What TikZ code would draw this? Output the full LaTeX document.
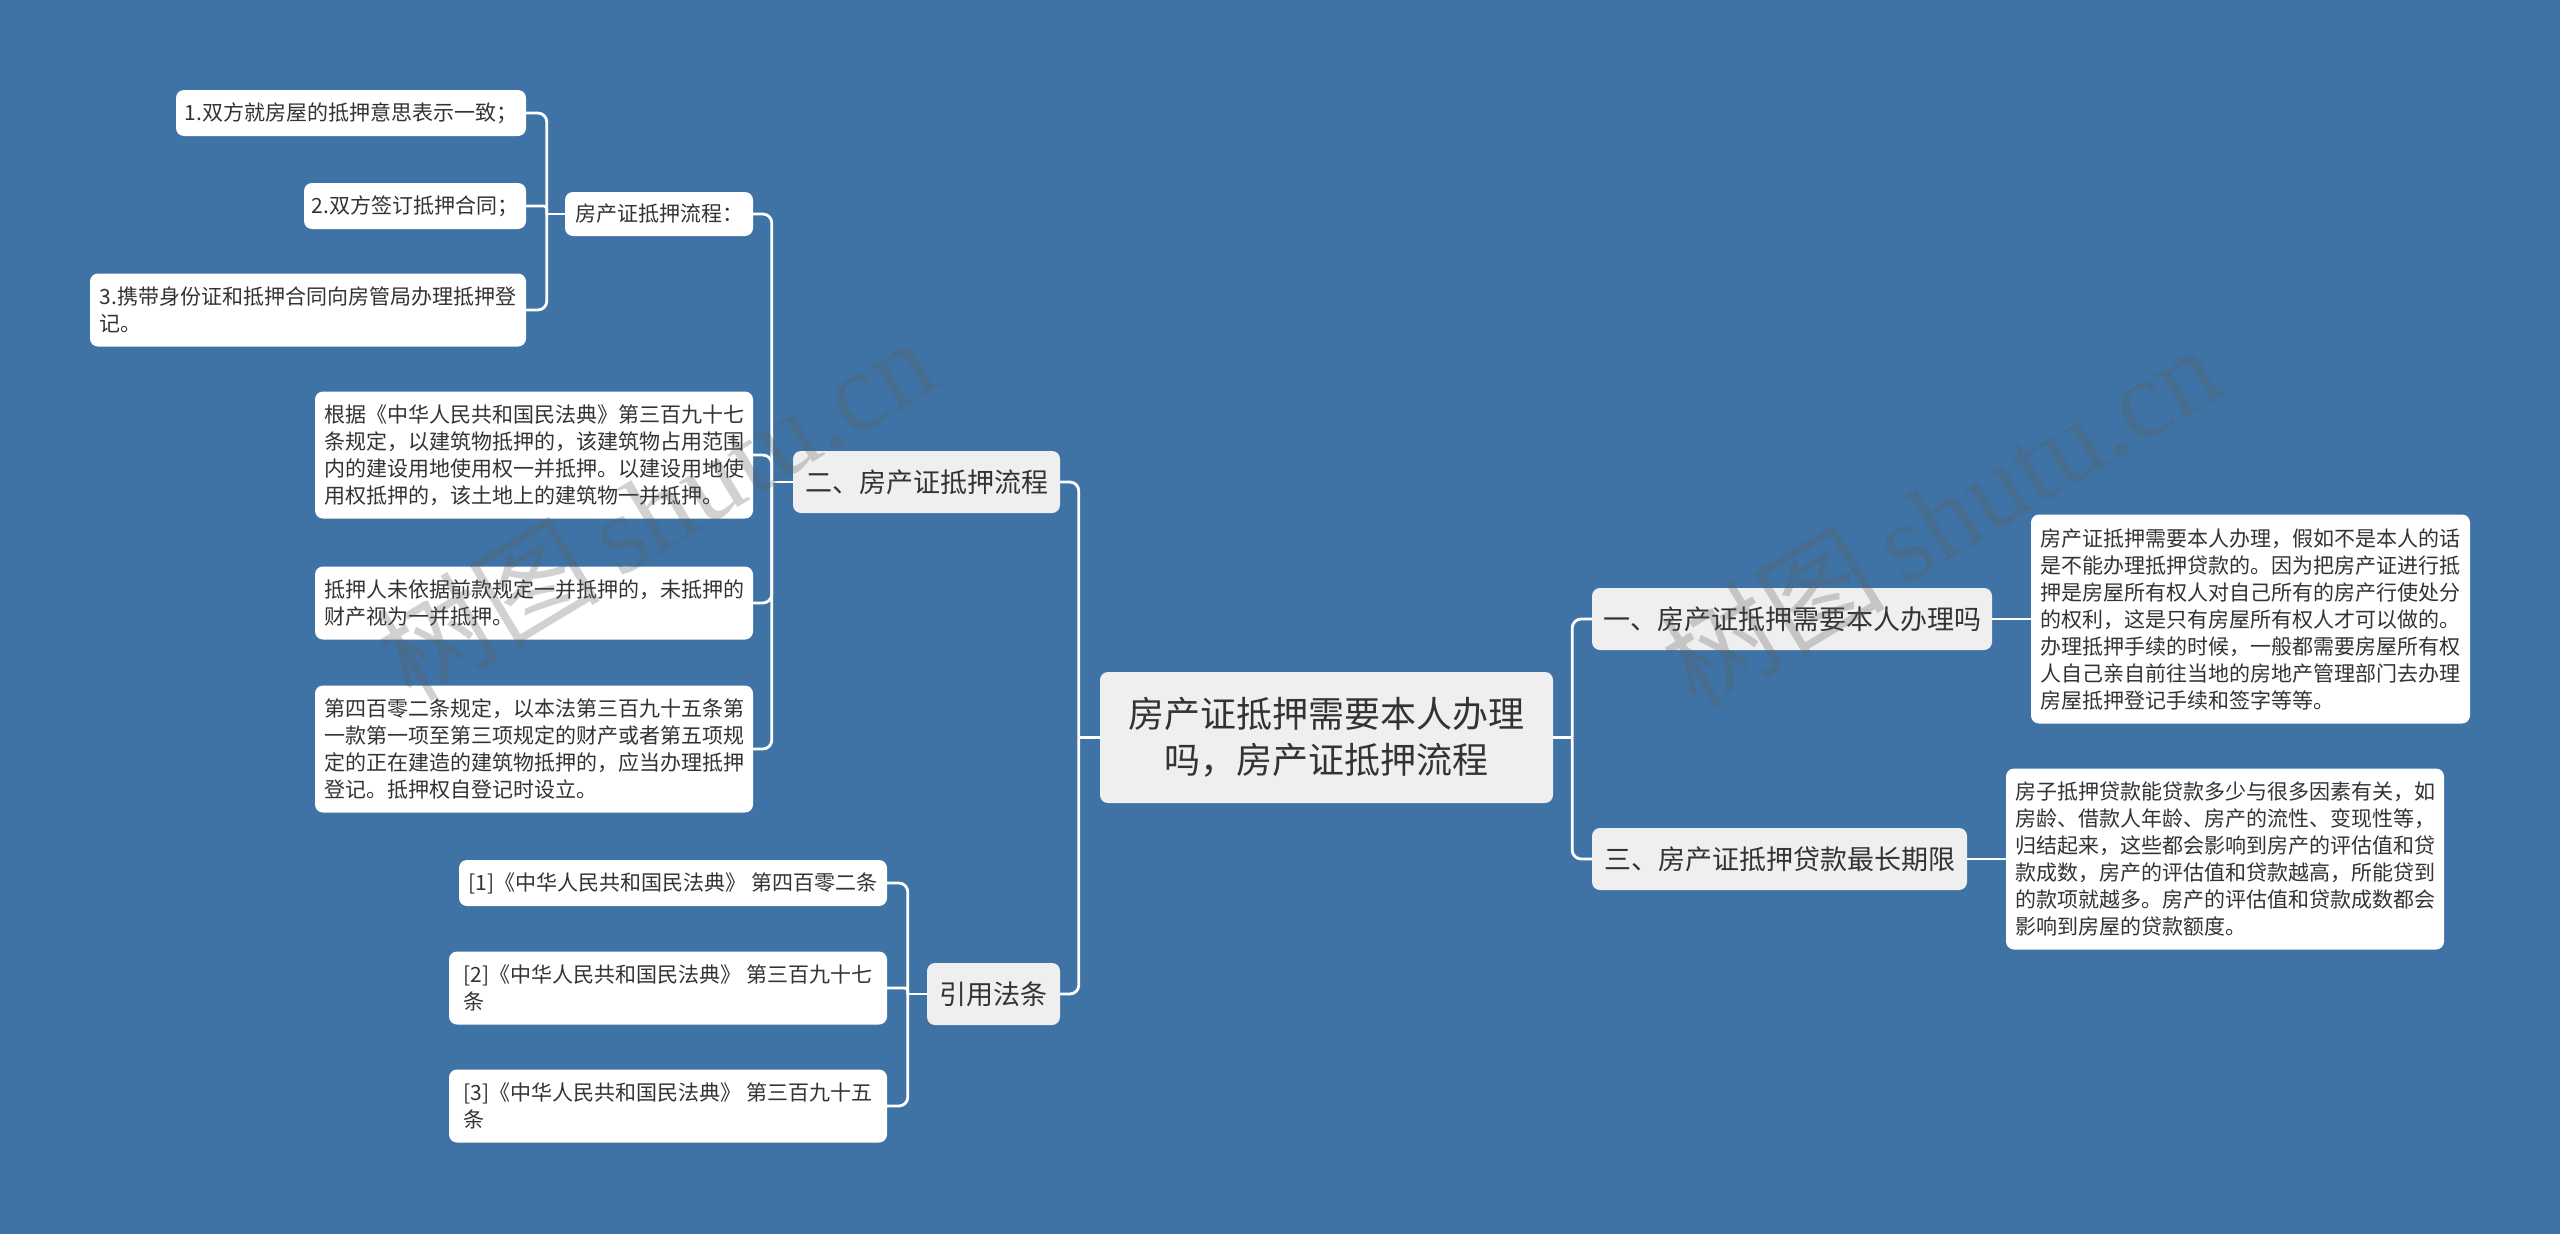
\documentclass[tikz,border=0pt]{standalone}
\usepackage{fontspec}
\setmainfont{Noto Sans CJK SC}
\newfontfamily\wmlatin{Liberation Serif}
\definecolor{bg}{RGB}{63,115,166}
\definecolor{txt}{RGB}{51,51,51}
\definecolor{lvl}{RGB}{239,239,239}
\definecolor{wmc}{RGB}{90,90,90}
\begin{document}
\begin{tikzpicture}[x=1pt,y=-1pt,
  box/.style={draw=none, rounded corners=8pt, text=txt, inner sep=0pt, align=left, anchor=center},
  leaf/.style={box, fill=white, font=\fontsize{21}{27}\selectfont},
  mid/.style={box, fill=lvl, font=\fontsize{27}{33}\selectfont, align=center, minimum height=62pt},
  rootbox/.style={box, fill=lvl, font=\fontsize{36}{46}\selectfont, align=center},
  conn/.style={draw=white, line width=2.8pt, rounded corners=9pt},
  wm/.style={text=wmc, opacity=0.28, rotate=31, inner sep=0pt, font=\fontsize{112}{112}\selectfont}
]
\fill[bg] (0,0) rectangle (2560,1234);
\useasboundingbox (0,0) rectangle (2560,1234);

% root and level 1
\node[rootbox, minimum width=453pt, minimum height=131pt] (root) at (1326.5,737.5) {房产证抵押需要本人办理\\吗，房产证抵押流程};
\node[mid, minimum width=267pt] (n2) at (926.5,482) {二、房产证抵押流程};
\node[mid, minimum width=133pt] (cite) at (993.5,994) {引用法条};
\node[mid, minimum width=400pt] (n1) at (1792,619) {一、房产证抵押需要本人办理吗};
\node[mid, minimum width=375pt] (n3) at (1779.5,859) {三、房产证抵押贷款最长期限};

% right leaves
\node[leaf, minimum width=439pt, minimum height=209pt] (r1) at (2250.5,619) {房产证抵押需要本人办理，假如不是本人的话\\是不能办理抵押贷款的。因为把房产证进行抵\\押是房屋所有权人对自己所有的房产行使处分\\的权利，这是只有房屋所有权人才可以做的。\\办理抵押手续的时候，一般都需要房屋所有权\\人自己亲自前往当地的房地产管理部门去办理\\房屋抵押登记手续和签字等等。};
\node[leaf, minimum width=438pt, minimum height=181pt] (r2) at (2225,859) {房子抵押贷款能贷款多少与很多因素有关，如\\房龄、借款人年龄、房产的流性、变现性等，\\归结起来，这些都会影响到房产的评估值和贷\\款成数，房产的评估值和贷款越高，所能贷到\\的款项就越多。房产的评估值和贷款成数都会\\影响到房屋的贷款额度。};

% left branch 二
\node[leaf, minimum width=188pt, minimum height=44pt] (flow) at (659,214) {房产证抵押流程：};
\node[leaf, minimum width=438pt, minimum height=127pt] (law1) at (534,455) {根据《中华人民共和国民法典》第三百九十七\\条规定，以建筑物抵押的，该建筑物占用范围\\内的建设用地使用权一并抵押。以建设用地使\\用权抵押的，该土地上的建筑物一并抵押。};
\node[leaf, minimum width=438pt, minimum height=73pt] (law2) at (534,603) {抵押人未依据前款规定一并抵押的，未抵押的\\财产视为一并抵押。};
\node[leaf, minimum width=438pt, minimum height=127pt] (law3) at (534,749) {第四百零二条规定，以本法第三百九十五条第\\一款第一项至第三项规定的财产或者第五项规\\定的正在建造的建筑物抵押的，应当办理抵押\\登记。抵押权自登记时设立。};

% flow steps
\node[leaf, minimum width=350pt, minimum height=46pt] (s1) at (351,113) {1.双方就房屋的抵押意思表示一致；};
\node[leaf, minimum width=222pt, minimum height=46pt] (s2) at (415,206) {2.双方签订抵押合同；};
\node[leaf, minimum width=436pt, minimum height=73pt] (s3) at (308,310) {3.携带身份证和抵押合同向房管局办理抵押登\\记。};

% citations
\node[leaf, minimum width=428pt, minimum height=46pt] (c1) at (673,883) {[1]《中华人民共和国民法典》 第四百零二条};
\node[leaf, minimum width=438pt, minimum height=73pt] (c2) at (668,988) {[2]《中华人民共和国民法典》 第三百九十七\\条};
\node[leaf, minimum width=438pt, minimum height=73pt] (c3) at (668,1106) {[3]《中华人民共和国民法典》 第三百九十五\\条};

% connectors: root left
\draw[conn] (root.west) -- ++(-21,0) coordinate (tL);
\draw[conn] (tL) |- (n2.east);
\draw[conn] (tL) |- (cite.east);
% root right
\draw[conn] (root.east) -- ++(19,0) coordinate (tR);
\draw[conn] (tR) |- (n1.west);
\draw[conn] (tR) |- (n3.west);
\draw[conn] (n1.east) -- (r1.west);
\draw[conn] (n3.east) -- (r2.west);
% 二 children
\draw[conn] (n2.west) -- ++(-21,0) coordinate (t2);
\draw[conn] (t2) |- (flow.east);
\draw[conn] (t2) |- (law1.east);
\draw[conn] (t2) |- (law2.east);
\draw[conn] (t2) |- (law3.east);
% flow children
\draw[conn] (flow.west) -- ++(-18,0) coordinate (tf);
\draw[conn] (tf) |- (s1.east);
\draw[conn, rounded corners=3pt] (tf) |- (s2.east);
\draw[conn] (tf) |- (s3.east);
% cite children
\draw[conn] (cite.west) -- ++(-19,0) coordinate (tc);
\draw[conn] (tc) |- (c1.east);
\draw[conn, rounded corners=3pt] (tc) |- (c2.east);
\draw[conn] (tc) |- (c3.east);

% watermarks
\node[wm] (wm1) at (655,508) {树图\,{\wmlatin shutu.cn}};
\node[wm] (wm2) at (1940,516) {树图\,{\wmlatin shutu.cn}};
\end{tikzpicture}
\end{document}
